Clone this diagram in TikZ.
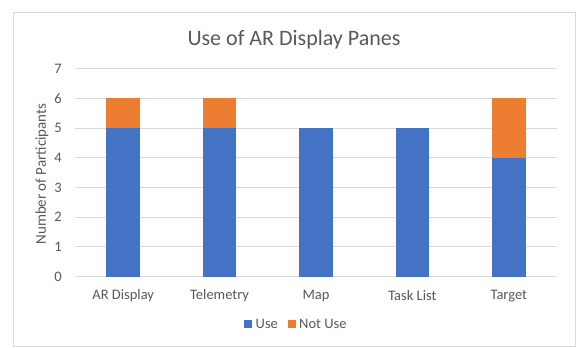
\documentclass[tikz,border=0pt]{standalone}
\usepackage{fontspec}
\setmainfont{Carlito}
\definecolor{txt}{RGB}{89,89,89}
\definecolor{grid}{RGB}{217,217,217}
\definecolor{useblue}{RGB}{68,114,196}
\definecolor{notorange}{RGB}{237,125,49}
\tikzset{
  tick/.style={text=txt,font=\fontsize{14.5}{16}\selectfont,inner sep=0pt},
  cat/.style={text=txt,font=\fontsize{14.5}{16}\selectfont,inner sep=0pt},
  gridline/.style={draw=grid,line width=0.9pt},
  usebar/.style={fill=useblue,draw=none},
  notbar/.style={fill=notorange,draw=none},
}
\begin{document}
\begin{tikzpicture}[x=1pt,y=-1pt]
\useasboundingbox (0,0) rectangle (579,348);
\fill[white] (0,0) rectangle (579,348);
\draw[draw=grid,line width=1pt] (13,12) rectangle (575,346);
\node[text=txt,font=\fontsize{22}{26}\selectfont,inner sep=0pt] (title) at (294,40) {Use of AR Display Panes};
% gridlines
\foreach \v in {0,...,7}{
  \draw[gridline] (75,{276.5-29.7*\v}) -- (557,{276.5-29.7*\v});
  \node[tick] (t\v) at (58,{276.5-29.7*\v}) {\v};
}
\node[text=txt,font=\fontsize{15}{17}\selectfont,rotate=90,inner sep=0pt] (ytitle) at (42,174) {Number of Participants};
% bars
\foreach \i/\u/\n/\lab in {0/5/1/AR Display,1/5/1/Telemetry,2/5/0/Map,3/5/0/Task List,4/4/2/Target}{
  \pgfmathsetmacro{\cx}{123.2+96.4*\i}
  \fill[usebar] ({\cx-16.8},276.5) rectangle ({\cx+16.8},{276.5-29.7*\u});
  \ifnum\n>0
  \fill[notbar] ({\cx-16.8},{276.5-29.7*\u}) rectangle ({\cx+16.8},{276.5-29.7*(\u+\n)});
  \fi
  \node[cat] (c\i) at (\cx,296) {\lab};
}
% legend
\fill[useblue] (244,320) rectangle (252,328);
\node[cat,anchor=west] (luse) at (255.5,324) {Use};
\fill[notorange] (288,320) rectangle (296,328);
\node[cat,anchor=west] (lnot) at (299,324) {Not Use};
\end{tikzpicture}
\end{document}
